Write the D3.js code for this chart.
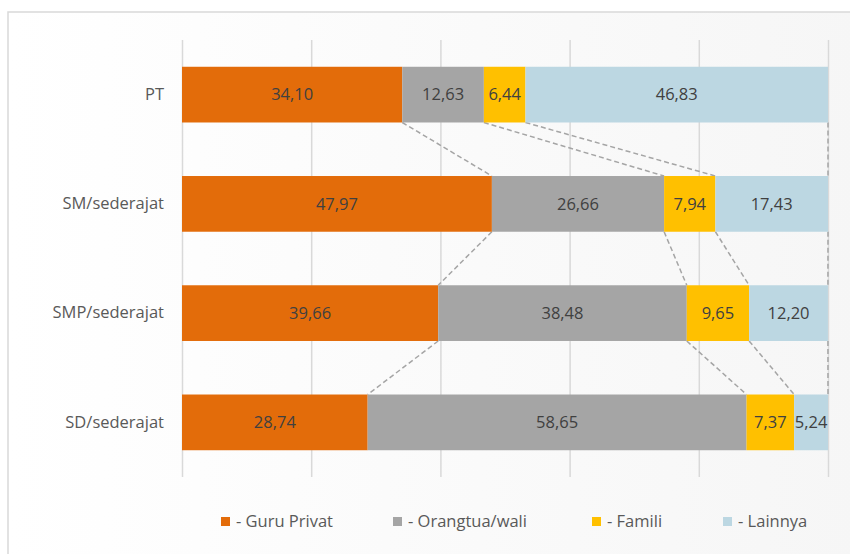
<!DOCTYPE html>
<html><head><meta charset="utf-8">
<script src="https://cdn.jsdelivr.net/npm/d3@7"></script>
<style>body{margin:0;background:#fff}svg{display:block}</style>
</head><body>
<script>
const categories = ["PT", "SM/sederajat", "SMP/sederajat", "SD/sederajat"];
const seriesNames = ["- Guru Privat", "- Orangtua/wali", "- Famili", "- Lainnya"];
const guruPrivat = [34.10, 47.97, 39.66, 28.74];
const orangtuaWali = [12.63, 26.66, 38.48, 58.65];
const famili = [6.44, 7.94, 9.65, 7.37];
const lainnya = [46.83, 17.43, 12.20, 5.24];
const colors = ["#E36C0A", "#A5A5A5", "#FFC000", "#BCD7E2"];
const xTicks = [0, 20, 40, 60, 80, 100];

const W = 850, H = 554;
const svg = d3.select("body").append("svg").attr("width", W).attr("height", H);
const defs = svg.append("defs");
const grad = defs.append("linearGradient").attr("id", "bg").attr("x1", 0).attr("x2", 1).attr("y1", 0).attr("y2", 0);
grad.append("stop").attr("offset", "0").attr("stop-color", "#ffffff");
grad.append("stop").attr("offset", "1").attr("stop-color", "#f6f6f6");
svg.append("rect").attr("x", 8).attr("y", 12).attr("width", W).attr("height", H)
  .attr("fill", "url(#bg)").attr("stroke", "#d9d9d9").attr("stroke-width", 1.5);

const table = categories.map((c, i) => ({cat: c, v: [guruPrivat[i], orangtuaWali[i], famili[i], lainnya[i]]}));
const x = d3.scaleLinear().domain([0, 100]).range([182, 828]);
const y = d3.scaleBand().domain(categories).range([40, 477]).paddingInner(0.49).paddingOuter(0.245);

// gridlines
const xAxis = d3.axisBottom(x).tickValues(xTicks).tickSize(-(477 - 40)).tickFormat("");
const gx = svg.append("g").attr("transform", "translate(0,477)").call(xAxis);
gx.select(".domain").remove();
gx.selectAll(".tick line").attr("stroke", "#d9d9d9").attr("stroke-width", 1.5);

// category labels
const yAxis = d3.axisLeft(y).tickSize(0).tickPadding(18);
const gy = svg.append("g").attr("transform", "translate(182,0)").call(yAxis);
gy.select(".domain").remove();
gy.selectAll(".tick text").attr("fill", "#595959").attr("font-size", 16.5)
  .attr("font-family", "'Open Sans', 'Noto Sans', sans-serif");

// stacked data
const stacked = table.map(d => {
  let acc = 0;
  return d.v.map((v, k) => { const s = acc; acc += v; return {cat: d.cat, k, v, x0: s, x1: acc}; });
});

// series lines
const lineG = svg.append("g");
for (let k = 0; k < 4; k++) {
  for (let i = 0; i < categories.length - 1; i++) {
    const a = stacked[i][k], b = stacked[i + 1][k];
    lineG.append("line")
      .attr("x1", x(a.x1)).attr("y1", y(a.cat) + y.bandwidth())
      .attr("x2", x(b.x1)).attr("y2", y(b.cat))
      .attr("stroke", "#A5A5A5").attr("stroke-width", 1.5).attr("stroke-dasharray", "5,3");
  }
}

// bars
const segs = stacked.flat();
svg.append("g").selectAll("rect").data(segs).join("rect")
  .attr("x", d => x(d.x0)).attr("y", d => y(d.cat))
  .attr("width", d => x(d.x1) - x(d.x0)).attr("height", y.bandwidth())
  .attr("fill", d => colors[d.k]);

svg.append("g").selectAll("text").data(segs).join("text")
  .attr("x", d => (x(d.x0) + x(d.x1)) / 2).attr("y", d => y(d.cat) + y.bandwidth() / 2)
  .attr("dy", "0.35em").attr("text-anchor", "middle")
  .attr("fill", "#404040").attr("font-size", 16.5)
  .attr("font-family", "'Open Sans', 'Noto Sans', sans-serif")
  .text(d => d.v.toFixed(2).replace(".", ","));

// legend
const legendX = [221, 393, 592, 723];
const lg = svg.append("g").selectAll("g").data(seriesNames).join("g")
  .attr("transform", (d, i) => `translate(${legendX[i]},521)`);
lg.append("rect").attr("x", 0).attr("y", -4).attr("width", 9).attr("height", 9).attr("fill", (d, i) => colors[i]);
lg.append("text").attr("x", 15).attr("y", 0).attr("dy", "0.35em")
  .attr("fill", "#595959").attr("font-size", 16.5)
  .attr("font-family", "'Open Sans', 'Noto Sans', sans-serif")
  .text(d => d);
</script>
</body></html>
